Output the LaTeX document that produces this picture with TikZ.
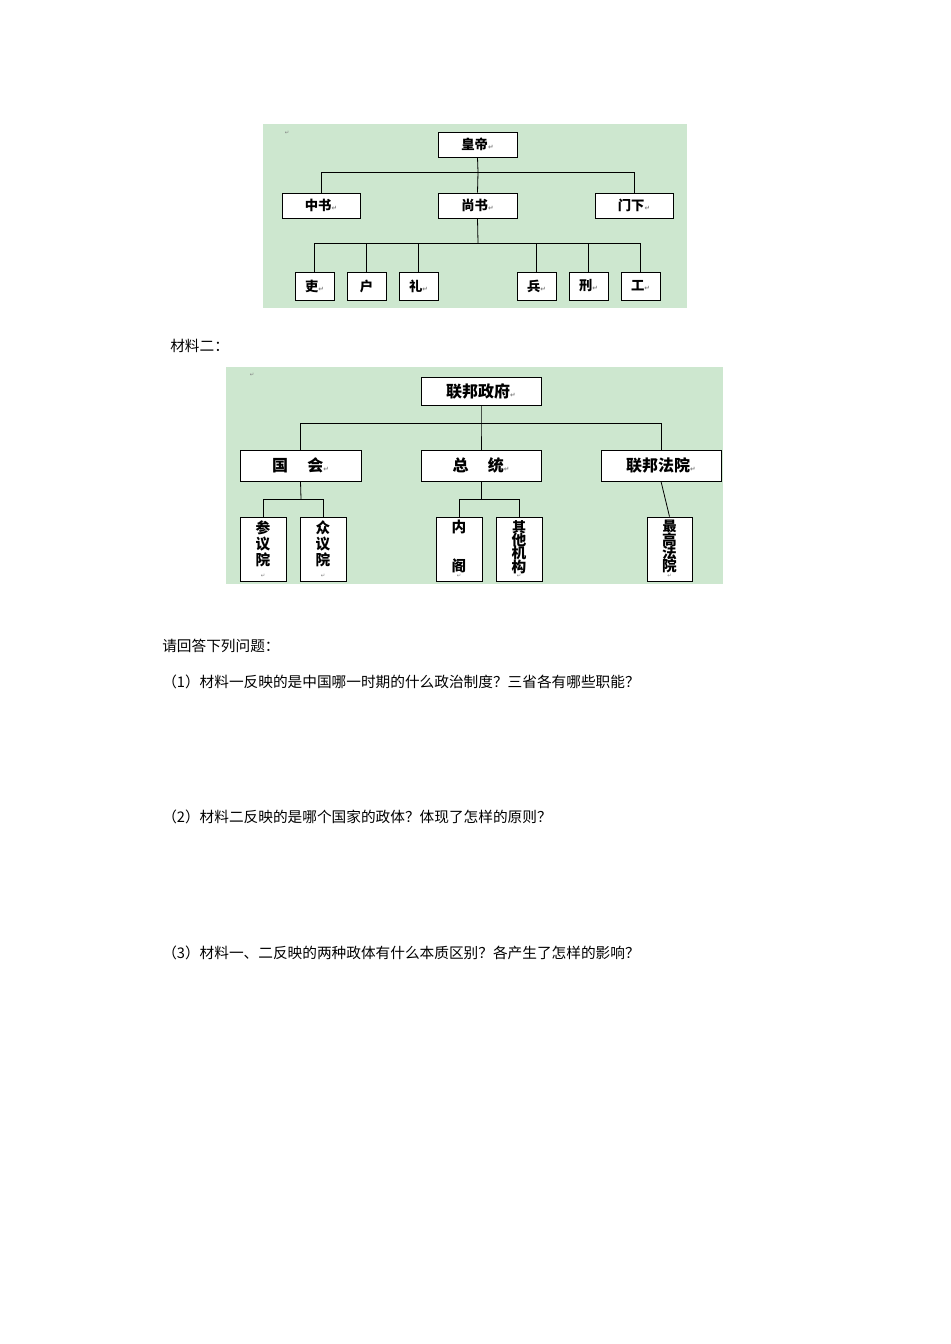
\documentclass[tikz,border=0pt]{standalone}
\usepackage{fontspec}
\setmainfont{Noto Sans CJK SC}
\newfontfamily\dv{DejaVu Sans}
\definecolor{bgg}{RGB}{205,231,207}
\begin{document}
\begin{tikzpicture}[x=0.75pt,y=-0.75pt,
  bx/.style={draw,fill=white,line width=0.6pt,font=\bfseries\fontsize{10}{12}\selectfont},
  ln/.style={line width=0.6pt},
  txt/.style={anchor=west,inner sep=0pt,font=\fontsize{11}{13}\selectfont},
  rt/.style={font=\dv\fontsize{4}{5}\selectfont,text=gray}]
\useasboundingbox[fill=white] (0,0) rectangle (950,1344);
% diagram 1
\fill[bgg] (263,124) rectangle (687,308);
\node[rt] (r1) at (287,133) {↵};
\newcommand\bxx[6]{\node[bx,minimum width=#3*0.75pt-#2*0.75pt,minimum height=#5*0.75pt-#4*0.75pt,inner sep=0pt] (#1) at ({(#2+#3)/2},{(#4+#5)/2}) {#6};}
\bxx{hd}{438}{517}{132}{157}{皇帝{\dv\tiny\color{gray}↵}}
\bxx{zs}{282}{360}{193}{218}{中书{\dv\tiny\color{gray}↵}}
\bxx{ss}{438}{517}{193}{218}{尚书{\dv\tiny\color{gray}↵}}
\bxx{mx}{595}{673}{193}{218}{门下{\dv\tiny\color{gray}↵}}
\bxx{li}{295}{334}{272}{300}{吏{\dv\tiny\color{gray}↵}}
\bxx{hu}{347}{386}{272}{300}{户}
\bxx{lii}{399}{438}{272}{300}{礼{\dv\tiny\color{gray}↵}}
\bxx{bi}{517}{556}{272}{300}{兵{\dv\tiny\color{gray}↵}}
\bxx{xi}{569}{608}{272}{300}{刑{\dv\tiny\color{gray}↵}}
\bxx{go}{621}{660}{272}{300}{工{\dv\tiny\color{gray}↵}}
\coordinate (j1) at (478,172);
\coordinate (j2) at (478,243);
\draw[ln] (hd.south) -- (j1);
\draw[ln] (zs.north) -- (zs.north|-j1) -- (mx.north|-j1) -- (mx.north);
\draw[ln] (j1) -- (ss.north);
\draw[ln] (ss.south) -- (j2);
\draw[ln] (li.north) -- (li.north|-j2) -- (go.north|-j2) -- (go.north);
\foreach \n in {hu,lii,bi,xi} \draw[ln] (\n.north) -- (\n.north|-j2);
% label
\node[txt] (m2) at (170,346) {材料二：};
% diagram 2
\fill[bgg] (226,367) rectangle (723,584);
\node[rt] (r2) at (252,375) {↵};
\bxx{fg}{421}{541}{377}{405}{\fontsize{12}{14}\selectfont 联邦政府{\dv\tiny\color{gray}↵}}
\bxx{gh}{240}{361}{450}{481}{\fontsize{12}{14}\selectfont 国\hspace{1.2em}会{\dv\tiny\color{gray}↵}}
\bxx{zt}{421}{541}{450}{481}{\fontsize{12}{14}\selectfont 总\hspace{1.2em}统{\dv\tiny\color{gray}↵}}
\bxx{fy}{601}{721}{450}{481}{\fontsize{12}{14}\selectfont 联邦法院{\dv\tiny\color{gray}↵}}
\newcommand\vb[6]{\node[bx,minimum width=#3*0.75pt-#2*0.75pt,minimum height=#5*0.75pt-#4*0.75pt,inner sep=0pt] (#1) at ({(#2+#3)/2},{(#4+#5)/2}) {};
\node[font=\bfseries\fontsize{11}{13}\selectfont,align=center,inner sep=0pt,anchor=north] (#1t) at ({(#2+#3)/2},{#4+3}) {#6};
\node[rt] (#1r) at ({(#2+#3)/2},{#5-5}) {↵};}
\vb{cy}{240}{286}{517}{581}{参\\[-1pt]议\\[-1pt]院}
\vb{zy}{300}{346}{517}{581}{众\\[-1pt]议\\[-1pt]院}
\vb{ng}{436}{482}{517}{581}{内\\[16pt]阁}
\vb{qt}{496}{542}{517}{581}{\fontsize{10.5}{11}\selectfont 其\\[-3pt]他\\[-3pt]机\\[-3pt]构}
\vb{zg}{647}{692}{517}{581}{\fontsize{10.5}{11}\selectfont 最\\[-3pt]高\\[-3pt]法\\[-3pt]院}
\coordinate (k1) at (481,423);
\coordinate (k2) at (301,499);
\coordinate (k3) at (481,499);
\draw[ln] (fg.south) -- (k1) -- (zt.north);
\draw[ln] (gh.north) -- (gh.north|-k1) -- (fy.north|-k1) -- (fy.north);
\draw[ln] (gh.south) -- (k2);
\draw[ln] (cy.north) -- (cy.north|-k2) -- (zy.north|-k2) -- (zy.north);
\draw[ln] (zt.south) -- (k3);
\draw[ln] (ng.north) -- (ng.north|-k3) -- (qt.north|-k3) -- (qt.north);
\draw[ln] (fy.south) -- (zg.north);
% questions
\node[txt] (q0) at (162,646) {请回答下列问题：};
\node[txt] (q1) at (162,682) {（1）材料一反映的是中国哪一时期的什么政治制度？三省各有哪些职能？};
\node[txt] (q2) at (162,817) {（2）材料二反映的是哪个国家的政体？体现了怎样的原则？};
\node[txt] (q3) at (162,953) {（3）材料一、二反映的两种政体有什么本质区别？各产生了怎样的影响？};
\end{tikzpicture}
\end{document}
